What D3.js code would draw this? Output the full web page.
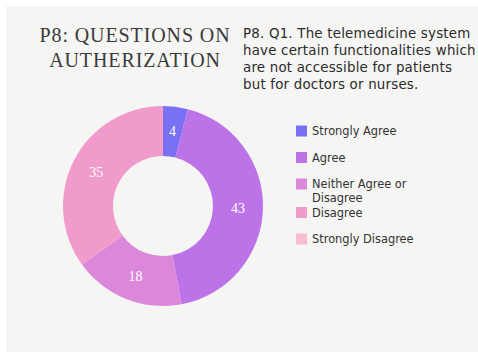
<!DOCTYPE html>
<html>
<head>
<meta charset="utf-8">
<title>P8 Authorization</title>
<script src="https://cdn.jsdelivr.net/npm/d3@7/dist/d3.min.js"></script>
<style>
  body { margin:0; background:#fff; }
  svg { display:block; }
</style>
</head>
<body>
<script>
// data
var categories = ["Strongly Agree", "Agree", "Neither Agree or Disagree", "Disagree", "Strongly Disagree"];
var values = [4, 43, 18, 35, 0];
var colors = ["#7a70f4", "#bd73e8", "#dc88da", "#f19bcc", "#f7bdd2"];
var titleLines = ["P8: QUESTIONS ON", "AUTHERIZATION"];
var questionLines = ["P8. Q1. The telemedicine system", "have certain functionalities which", "are not accessible for patients", "but for doctors or nurses."];

var W = 478, H = 356;
var svg = d3.select("body").append("svg").attr("width", W).attr("height", H);

svg.append("rect").attr("x", 6).attr("y", 6).attr("width", W - 6).attr("height", H - 10)
  .attr("fill", "#f5f5f3");

// title
svg.append("g").selectAll("text").data(titleLines).enter().append("text")
  .attr("x", 135).attr("y", function (d, i) { return 42 + i * 25; })
  .attr("text-anchor", "middle")
  .attr("font-family", "Liberation Serif, serif")
  .attr("font-size", 20).attr("letter-spacing", 0.9)
  .attr("fill", "#3a3a3a")
  .text(function (d) { return d; });

svg.append("g").selectAll("text").data(questionLines).enter().append("text")
  .attr("x", 243).attr("y", function (d, i) { return 38 + i * 17; })
  .attr("font-family", "DejaVu Sans, sans-serif")
  .attr("font-size", 13.4).attr("letter-spacing", 0.2)
  .attr("fill", "#2b2b2b")
  .text(function (d) { return d; });

// donut
var color = d3.scaleOrdinal().domain(categories).range(colors);
var pie = d3.pie().sort(null).value(function (d) { return d.v; });
var arc = d3.arc().innerRadius(50).outerRadius(100);
var data = categories.map(function (c, i) { return { c: c, v: values[i] }; });

var g = svg.append("g").attr("transform", "translate(163,206)");
var slices = g.selectAll(".arc").data(pie(data).filter(function (d) { return d.data.v > 0; }))
  .enter().append("g").attr("class", "arc");

slices.append("path").attr("d", arc).attr("fill", function (d) { return color(d.data.c); });

slices.append("text")
  .attr("transform", function (d) { return "translate(" + arc.centroid(d) + ")"; })
  .attr("dy", "0.35em").attr("text-anchor", "middle")
  .attr("font-family", "Liberation Serif, serif").attr("font-size", 14)
  .attr("fill", "#fff")
  .text(function (d) { return d.data.v; });

// legend
var legendY = [131, 157.5, 184, 212.5, 239];
var legend = svg.append("g").selectAll("g").data(categories).enter().append("g")
  .attr("transform", function (d, i) { return "translate(296," + legendY[i] + ")"; });

legend.append("rect").attr("x", 0).attr("y", -5.5).attr("width", 11).attr("height", 11)
  .attr("fill", function (d) { return color(d); });

legend.append("text")
  .attr("x", 16).attr("y", 4)
  .attr("font-family", "DejaVu Sans, sans-serif").attr("font-size", 11.4)
  .attr("fill", "#333")
  .each(function (d) {
    var t = d3.select(this);
    if (d === "Neither Agree or Disagree") {
      t.append("tspan").attr("x", 16).text("Neither Agree or");
      t.append("tspan").attr("x", 16).attr("dy", 14).text("Disagree");
    } else {
      t.text(d);
    }
  });
</script>
</body>
</html>
